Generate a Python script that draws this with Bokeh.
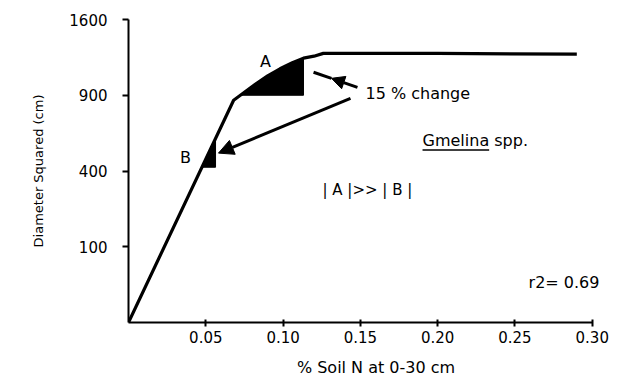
import numpy as np
from bokeh.plotting import figure
from bokeh.models import (Range1d, FixedTicker, CustomJSTickFormatter,
                          NumeralTickFormatter, Arrow, NormalHead, Label)
from bokeh.embed import file_html
from bokeh.resources import INLINE

# Response curve: diameter squared vs. soil N
soil_n = [0.0, 0.068, 0.075, 0.082, 0.090, 0.098, 0.106, 0.1132,
          0.120, 0.126, 0.200, 0.290]
diam_sq = [0, 861, 924, 989, 1060, 1122, 1176, 1218,
           1236, 1262, 1262, 1255]

x_ticks = [0.05, 0.10, 0.15, 0.20, 0.25, 0.30]
y_ticks = [100, 400, 900, 1600]

# Shaded intervals of the curve (soil N bounds)
region_a_hi = 0.1132        # lower bound found where curve reaches 900
region_a_base = 900
region_b = [0.0475, 0.0563]

FONT = "DejaVu Sans"

# y is drawn on a square-root scale (diameter itself is linear)
xs = np.array(soil_n)
ys = np.sqrt(np.array(diam_sq, dtype=float))
rise = slice(0, 10)


def curve_at(x):
    return float(np.interp(x, xs[rise], ys[rise]))


p = figure(width=625, height=379, output_backend="svg", toolbar_location=None,
           x_range=Range1d(0, 0.3202), y_range=Range1d(0, 40),
           min_border_left=128, min_border_right=2,
           min_border_top=19, min_border_bottom=56)
p.grid.visible = False
p.outline_line_color = None
p.background_fill_color = "white"
p.border_fill_color = "white"

# Region A: between the curve and the 900 level
a_lo = float(np.interp(np.sqrt(region_a_base), ys[rise], xs[rise]))
a_hi = region_a_hi
inner = [(x, y) for x, y in zip(xs, ys) if a_lo < x < a_hi]
a_x = [a_lo] + [q[0] for q in inner] + [a_hi, a_hi]
a_y = [np.sqrt(region_a_base)] + [q[1] for q in inner] + [curve_at(a_hi), np.sqrt(region_a_base)]
p.patch(a_x, a_y, fill_color="black", line_color="black", line_width=1)

# Region B: small triangle under the straight part of the curve
b_lo, b_hi = region_b
p.patch([b_lo, b_hi, b_hi], [curve_at(b_lo), curve_at(b_hi), curve_at(b_lo)],
        fill_color="black", line_color="black", line_width=1)

p.line(xs, ys, line_color="black", line_width=3.2, line_join="round")

# Arrows from the annotation text
head_a = NormalHead(size=13, fill_color="black", line_color="black")
p.add_layout(Arrow(end=head_a, x_start=0.1481, y_start=np.sqrt(964),
                   x_end=0.1313, y_end=np.sqrt(1039),
                   line_width=3, line_color="black"))
p.segment(x0=[0.1313], y0=[np.sqrt(1039)], x1=[0.1197], y1=[np.sqrt(1091)],
          line_width=3, line_color="black")

head_b = NormalHead(size=15, fill_color="black", line_color="black")
p.add_layout(Arrow(end=head_b, x_start=0.1436, y_start=np.sqrt(876),
                   x_end=0.0582, y_end=np.sqrt(500),
                   line_width=3, line_color="black"))


def label(x, y_sq, text, size=16, align="left"):
    p.add_layout(Label(x=x, y=float(np.sqrt(y_sq)), text=text, text_font=FONT,
                       text_font_size=f"{size}px", text_color="black",
                       text_align=align, text_baseline="middle"))


label(0.0886, 1188, "A", align="center")
label(0.0369, 477, "B", align="center")
label(0.1533, 916, "15 % change")
label(0.1902, 580, "Gmelina spp.")
label(0.1255, 306, "| A |>> | B |", size=15)
label(0.2588, 27.7, "r2= 0.69")

# underline under the genus name
p.segment(x0=[0.1902], y0=[np.sqrt(518)], x1=[0.1902 + 0.0431], y1=[np.sqrt(518)],
          line_width=1.5, line_color="black")

# Axes
xa = p.xaxis[0]
xa.ticker = FixedTicker(ticks=x_ticks)
xa.formatter = NumeralTickFormatter(format="0.00")
xa.bounds = (0, 0.30)
xa.axis_label = "% Soil N at 0-30 cm"
xa.major_tick_in = 3
xa.major_tick_out = 4
xa.minor_tick_line_color = None
xa.major_label_standoff = 4
xa.axis_label_standoff = 12

ya = p.yaxis[0]
ya.ticker = FixedTicker(ticks=[float(np.sqrt(t)) for t in y_ticks])
ya.formatter = CustomJSTickFormatter(code="return String(Math.round(tick*tick));")
ya.axis_label = "Diameter Squared (cm)"
ya.major_tick_in = 0
ya.major_tick_out = 6
ya.minor_tick_line_color = None
ya.major_label_standoff = 15
ya.axis_label_standoff = 20

for ax in (xa, ya):
    ax.axis_line_width = 2
    ax.axis_line_color = "black"
    ax.major_tick_line_width = 2
    ax.major_tick_line_color = "black"
    ax.major_label_text_font = FONT
    ax.major_label_text_font_size = "15px"
    ax.major_label_text_color = "black"
    ax.axis_label_text_font = FONT
    ax.axis_label_text_font_style = "normal"
    ax.axis_label_text_color = "black"

xa.axis_label_text_font_size = "16px"
ya.axis_label_text_font_size = "13px"

open("out.html", "w").write(file_html(p, INLINE))
